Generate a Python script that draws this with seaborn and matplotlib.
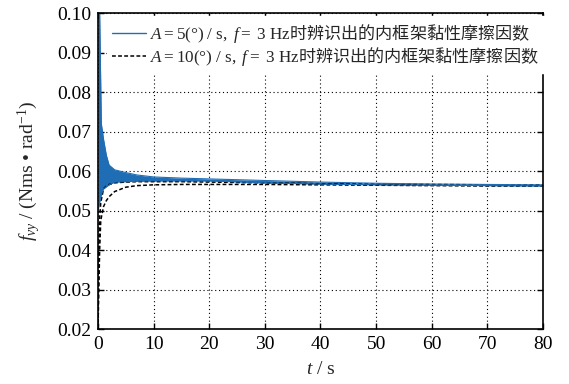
import matplotlib
matplotlib.use('Agg')
import matplotlib.pyplot as plt
import seaborn as sns
from matplotlib.lines import Line2D
from matplotlib.font_manager import FontProperties

# 辨识结果包络
t_blue = [0, 0.3, 0.6, 1.0, 1.5, 2, 3, 5, 7, 10, 15, 20, 30, 40, 50, 60, 70, 80]
blue_upper = [0.100, 0.100, 0.072, 0.068, 0.064, 0.0615, 0.0603, 0.0596, 0.0590, 0.0585,
              0.0582, 0.0580, 0.0576, 0.0572, 0.0569, 0.0567, 0.0566, 0.0565]
blue_lower = [0.050, 0.052, 0.054, 0.0555, 0.0560, 0.0565, 0.0572, 0.0573, 0.0574, 0.0575,
              0.0575, 0.0575, 0.0570, 0.0567, 0.0565, 0.0564, 0.0563, 0.0562]

t_black = [0, 0.15, 0.3, 0.5, 1.0, 1.5, 2, 3, 5, 7, 10, 15, 20, 30, 40, 50, 60, 70, 80]
black_upper = [0.020, 0.040, 0.048, 0.052, 0.0555, 0.0562, 0.0566, 0.0570, 0.0572, 0.0573,
               0.0573, 0.0573, 0.0572, 0.0570, 0.0568, 0.0567, 0.0566, 0.0565, 0.0565]
black_lower = [0.020, 0.030, 0.040, 0.0475, 0.051, 0.0525, 0.0535, 0.0548, 0.0559, 0.0563,
               0.0565, 0.0566, 0.0566, 0.0566, 0.0565, 0.0564, 0.0563, 0.0562, 0.0562]

labels = [r'$A\mathrm{{=}5(°)\ /\ s,}\ f\mathrm{{=}\ 3\ Hz}$时辨识出的内框架黏性摩擦因数',
          r'$A\mathrm{{=}10(°)\ /\ s,}\ f\mathrm{{=}\ 3\ Hz}$时辨识出的内框架黏性摩擦因数']

x_ticks = [0, 10, 20, 30, 40, 50, 60, 70, 80]
y_ticks = [0.02, 0.03, 0.04, 0.05, 0.06, 0.07, 0.08, 0.09, 0.10]

sns.set_theme(style="ticks")
plt.rcParams['font.family'] = ['Liberation Serif', 'Noto Sans CJK SC']
plt.rcParams['mathtext.fontset'] = 'custom'
plt.rcParams['mathtext.rm'] = 'Liberation Serif'
plt.rcParams['mathtext.it'] = 'Liberation Serif:italic'
plt.rcParams['axes.unicode_minus'] = False

blue = '#1f6db4'
dash = (0, (2.5, 1.5))

fig = plt.figure(figsize=(5.69, 3.84), dpi=100)
ax = fig.add_axes([0.1722, 0.1432, 0.7821, 0.8229])

sns.lineplot(x=t_black, y=black_upper, ax=ax, color='black', lw=1.1, linestyle=dash)
sns.lineplot(x=t_black, y=black_lower, ax=ax, color='black', lw=1.1, linestyle=dash)
ax.fill_between(t_blue, blue_lower, blue_upper, color=blue, lw=0)
sns.lineplot(x=t_blue, y=blue_upper, ax=ax, color=blue, lw=0.8)
sns.lineplot(x=t_blue, y=blue_lower, ax=ax, color=blue, lw=0.8)

ax.set_xlim(0, 80)
ax.set_ylim(0.02, 0.10)
ax.set_xticks(x_ticks)
ax.set_yticks(y_ticks)
ax.set_xticklabels([str(v) for v in x_ticks])
ax.set_yticklabels([f'{v:.2f}' for v in y_ticks])
ax.tick_params(direction='in', length=4, width=1, top=True, right=True,
               labelsize=14, colors='black', pad=5)
ax.grid(True, linestyle=(0, (1, 2.5)), color='black', lw=0.8)
for s in ax.spines.values():
    s.set_color('black')
    s.set_linewidth(1.2)

ax.set_xlabel(r'$t\mathrm{\ /\ s}$', fontsize=14, labelpad=6)
ax.set_ylabel(r'$f_{vy}\mathrm{\ /\ (Nms\ •\ rad^{-1})}$', fontsize=14, labelpad=10)

handles = [Line2D([], [], color=blue, lw=1.0),
           Line2D([], [], color='black', lw=1.1, linestyle=dash)]
leg = ax.legend(handles, labels, loc='upper left', bbox_to_anchor=(0.012, 1.0),
                prop=FontProperties(family='Noto Sans CJK SC', size=12.3),
                frameon=True, fancybox=False, facecolor='white', edgecolor='white',
                framealpha=1, handlelength=2.0, handletextpad=0.25, labelspacing=0.0,
                borderpad=0.3, borderaxespad=0.2)

fig.savefig('out.png', dpi=100)
